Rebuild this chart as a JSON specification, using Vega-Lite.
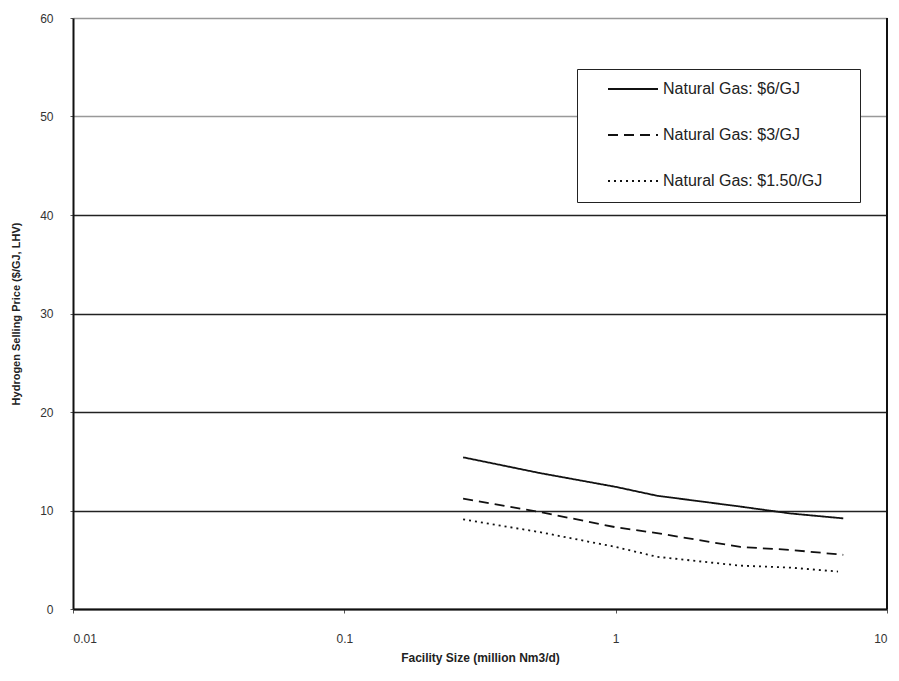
{
  "$schema": "https://vega.github.io/schema/vega-lite/v6.json",
  "width": 814,
  "height": 591,
  "autosize": {"type": "none"},
  "padding": {"left": 73, "top": 18, "right": 12, "bottom": 72},
  "background": "white",
  "config": {
    "font": "Liberation Sans",
    "view": {"stroke": null}
  },
  "data": {
    "values": [
      {"size": 0.274, "price": 15.4, "series": "Natural Gas: $6/GJ"},
      {"size": 0.526, "price": 13.8, "series": "Natural Gas: $6/GJ"},
      {"size": 1.0, "price": 12.4, "series": "Natural Gas: $6/GJ"},
      {"size": 1.42, "price": 11.5, "series": "Natural Gas: $6/GJ"},
      {"size": 2.88, "price": 10.4, "series": "Natural Gas: $6/GJ"},
      {"size": 4.4, "price": 9.7, "series": "Natural Gas: $6/GJ"},
      {"size": 6.9, "price": 9.2, "series": "Natural Gas: $6/GJ"},
      {"size": 0.274, "price": 11.2, "series": "Natural Gas: $3/GJ"},
      {"size": 0.526, "price": 9.85, "series": "Natural Gas: $3/GJ"},
      {"size": 1.0, "price": 8.3, "series": "Natural Gas: $3/GJ"},
      {"size": 1.42, "price": 7.7, "series": "Natural Gas: $3/GJ"},
      {"size": 2.88, "price": 6.3, "series": "Natural Gas: $3/GJ"},
      {"size": 4.4, "price": 6.0, "series": "Natural Gas: $3/GJ"},
      {"size": 6.9, "price": 5.5, "series": "Natural Gas: $3/GJ"},
      {"size": 0.274, "price": 9.1, "series": "Natural Gas: $1.50/GJ"},
      {"size": 0.526, "price": 7.8, "series": "Natural Gas: $1.50/GJ"},
      {"size": 1.0, "price": 6.3, "series": "Natural Gas: $1.50/GJ"},
      {"size": 1.42, "price": 5.3, "series": "Natural Gas: $1.50/GJ"},
      {"size": 2.88, "price": 4.4, "series": "Natural Gas: $1.50/GJ"},
      {"size": 4.4, "price": 4.2, "series": "Natural Gas: $1.50/GJ"},
      {"size": 6.6, "price": 3.8, "series": "Natural Gas: $1.50/GJ"}
    ]
  },
  "layer": [
    {
      "mark": {"type": "line", "color": "#111", "strokeWidth": 1.8},
      "encoding": {
        "x": {
          "field": "size", "type": "quantitative",
          "scale": {"type": "log", "domain": [0.01, 10]},
          "axis": {
            "title": "Facility Size (million Nm3/d)",
            "titleFontSize": 12, "titleFontWeight": "bold", "titleColor": "#222",
            "titlePadding": 8,
            "values": [0.01, 0.1, 1, 10],
            "labelExpr": "datum.value",
            "labelFontSize": 12, "labelColor": "#333", "labelPadding": 20,
            "grid": false, "domain": true, "domainColor": "#111", "domainWidth": 2,
            "tickColor": "#555", "tickSize": 4
          }
        },
        "y": {
          "field": "price", "type": "quantitative",
          "scale": {"domain": [0, 60], "nice": false},
          "axis": {
            "title": "Hydrogen Selling Price ($/GJ, LHV)",
            "titleFontSize": 11, "titleFontWeight": "bold", "titleColor": "#222",
            "titlePadding": 18,
            "values": [0, 10, 20, 30, 40, 50, 60],
            "labelFontSize": 12, "labelColor": "#333", "labelPadding": 17,
            "grid": true,
            "gridColor": {"condition": {"test": "datum.value === 50 || datum.value === 60", "value": "#999"}, "value": "#222"},
            "gridWidth": 1.3,
            "domain": true, "domainColor": "#111", "domainWidth": 2,
            "ticks": true, "tickSize": 3, "tickColor": "#555"
          }
        },
        "strokeDash": {
          "field": "series", "type": "nominal",
          "scale": {
            "domain": ["Natural Gas: $6/GJ", "Natural Gas: $3/GJ", "Natural Gas: $1.50/GJ"],
            "range": [[1, 0], [10, 6], [2, 4]]
          },
          "legend": {
            "title": null,
            "orient": "none",
            "legendX": 504,
            "legendY": 51,
            "fillColor": "white",
            "strokeColor": "#222",
            "padding": 13,
            "clipHeight": 14,
            "symbolSize": 2500,
            "symbolOffset": 17,
            "symbolStrokeColor": "#111",
            "symbolStrokeWidth": 1.8,
            "symbolType": "stroke",
            "labelFontSize": 16,
            "labelColor": "#222",
            "labelOffset": 4,
            "labelLimit": 400,
            "labelExpr": "datum.label + '\u2800\u2800'",
            "rowPadding": 30
          }
        }
      }
    },
    {
      "mark": {"type": "rule", "color": "#111", "strokeWidth": 2},
      "encoding": {"x": {"datum": 10}}
    }
  ]
}
